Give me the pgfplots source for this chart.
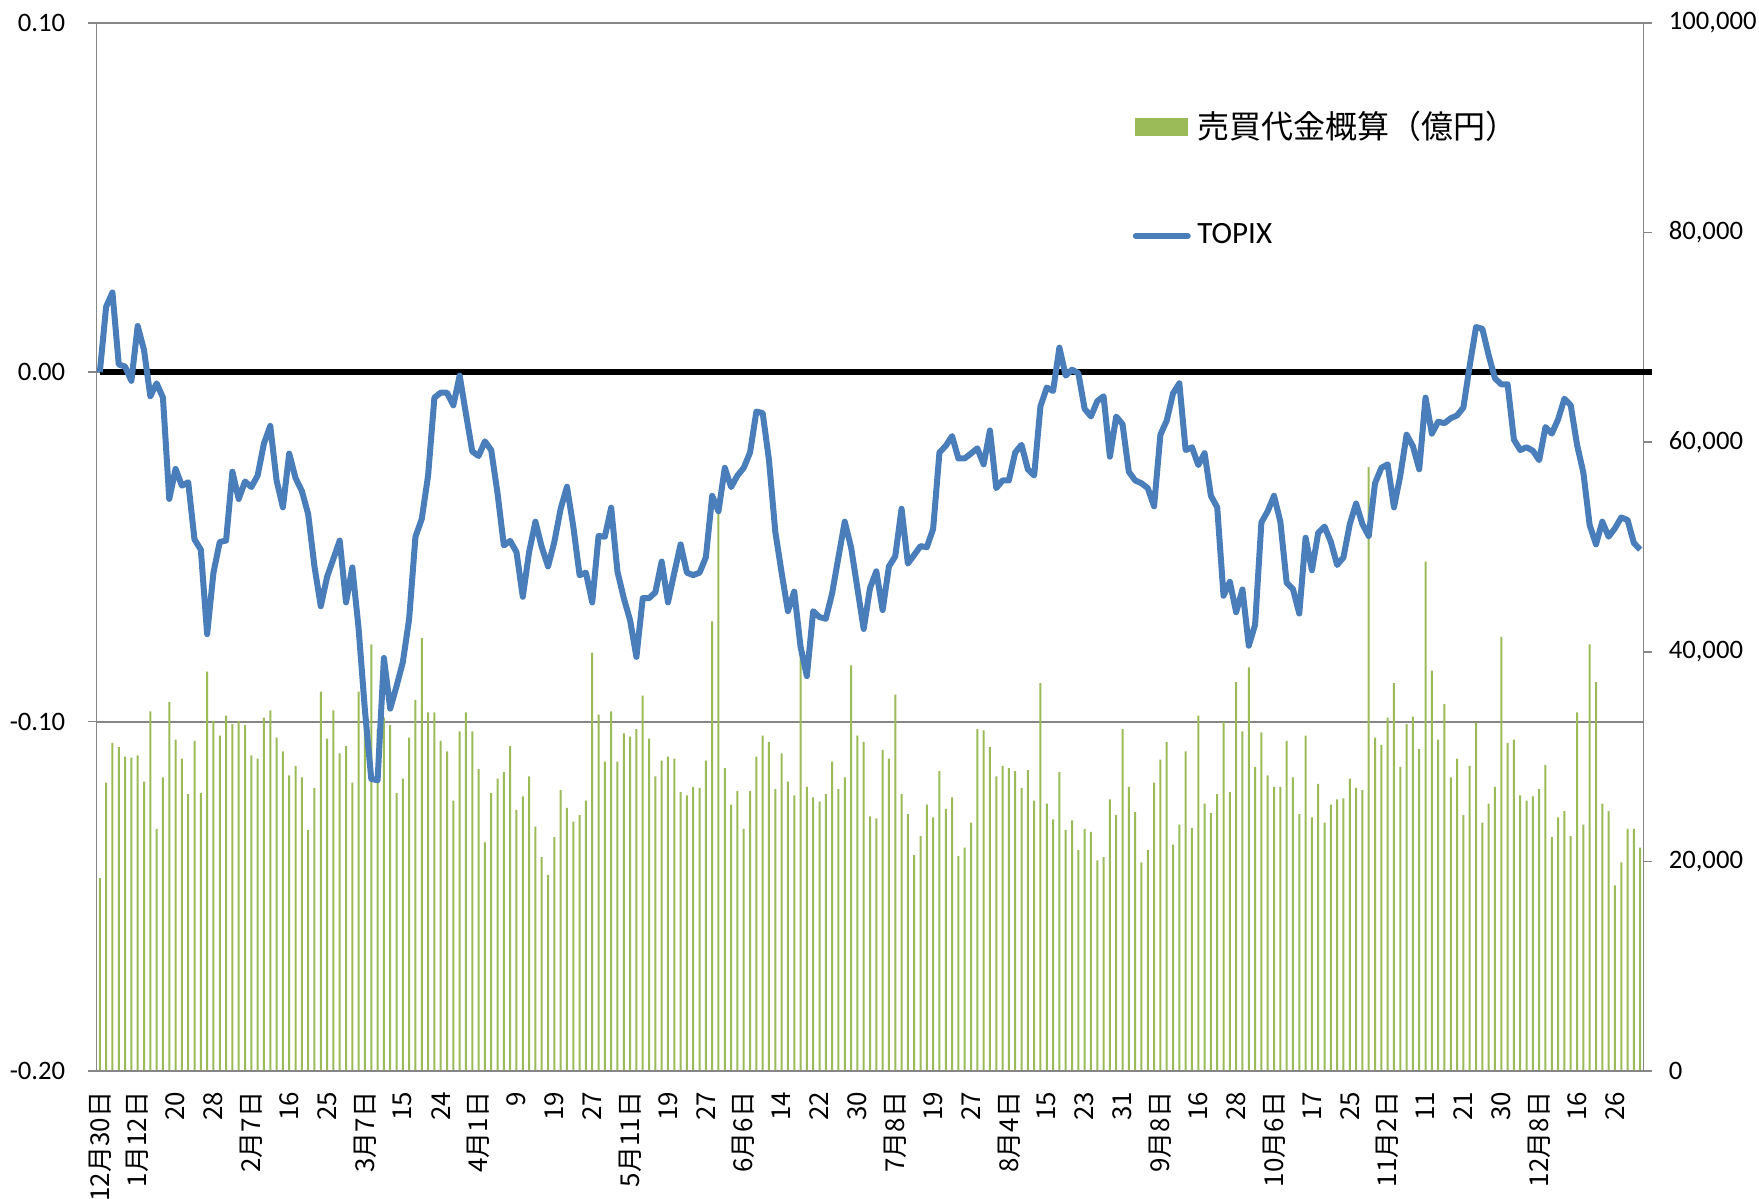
\documentclass[border=0pt]{standalone}
\usepackage{fontspec}
\setmainfont{Carlito}
\newfontfamily\jp{Noto Sans CJK JP}
\usepackage{pgfplots}
\usepackage{pgfplotstable}
\pgfplotsset{compat=1.18}
\definecolor{barg}{HTML}{9BBB59}
\definecolor{lineb}{HTML}{4A7EBB}
\definecolor{axgray}{HTML}{868686}

\pgfplotstableread{
i v
0 18400
1 27500
2 31300
3 30900
4 30000
5 29900
6 30100
7 27600
8 34300
9 23100
10 28000
11 35200
12 31600
13 29800
14 26400
15 31500
16 26500
17 38100
18 33400
19 32000
20 33900
21 33100
22 33400
23 33000
24 30100
25 29800
26 33700
27 34400
28 31800
29 30500
30 28200
31 29100
32 28000
33 23000
34 27000
35 36200
36 31700
37 34400
38 30300
39 31000
40 27500
41 36200
42 37100
43 40700
44 32600
45 33700
46 33000
47 26500
48 27900
49 31800
50 35400
51 41300
52 34200
53 34200
54 31500
55 30500
56 25800
57 32400
58 34200
59 32400
60 28800
61 21800
62 26500
63 27900
64 28500
65 31000
66 24900
67 26200
68 28100
69 23300
70 20400
71 18700
72 22300
73 26800
74 25100
75 23800
76 24400
77 25800
78 39900
79 34000
80 29500
81 34300
82 29500
83 32200
84 31900
85 32600
86 35800
87 31700
88 28100
89 29600
90 30000
91 29800
92 26600
93 26300
94 27100
95 27000
96 29600
97 42900
98 54500
99 28900
100 25400
101 26700
102 23100
103 26700
104 30000
105 32000
106 31400
107 26900
108 30300
109 27600
110 26300
111 42000
112 27100
113 26100
114 25700
115 26400
116 29500
117 26900
118 28000
119 38700
120 32000
121 31400
122 24300
123 24100
124 30600
125 29800
126 35900
127 26400
128 24500
129 20600
130 22400
131 25400
132 24200
133 28600
134 25000
135 26100
136 20500
137 21300
138 23700
139 32600
140 32500
141 30900
142 28100
143 29100
144 28900
145 28600
146 27000
147 28700
148 25800
149 37000
150 25500
151 24000
152 28500
153 23000
154 23900
155 21100
156 23100
157 22800
158 20100
159 20400
160 25900
161 24400
162 32600
163 27100
164 24700
165 19900
166 21100
167 27500
168 29700
169 31400
170 21600
171 23500
172 30500
173 23200
174 33900
175 25500
176 24600
177 26400
178 33300
179 26600
180 37100
181 32400
182 38500
183 29000
184 32300
185 28200
186 27100
187 27100
188 31500
189 28000
190 24500
191 32000
192 24200
193 27400
194 23700
195 25400
196 25900
197 26000
198 27900
199 27000
200 26800
201 57600
202 31800
203 31100
204 33700
205 37000
206 29000
207 33100
208 33800
209 30700
210 48600
211 38200
212 31600
213 35000
214 28000
215 29800
216 24400
217 29100
218 33200
219 23700
220 25500
221 27100
222 41400
223 31300
224 31600
225 26300
226 25800
227 26200
228 26900
229 29200
230 22300
231 24200
232 24800
233 22400
234 34200
235 23500
236 40700
237 37100
238 25500
239 24800
240 17700
241 19900
242 23100
243 23100
244 21300
}\vol

\pgfplotstableread{
i t
0 0
1 0.0187
2 0.0228
3 0.0022
4 0.0016
5 -0.0025
6 0.0132
7 0.0063
8 -0.0069
9 -0.0032
10 -0.0073
11 -0.0363
12 -0.0277
13 -0.0325
14 -0.0315
15 -0.0479
16 -0.0508
17 -0.0750
18 -0.0574
19 -0.0486
20 -0.0482
21 -0.0285
22 -0.0363
23 -0.0313
24 -0.0329
25 -0.0296
26 -0.0204
27 -0.0154
28 -0.0310
29 -0.0387
30 -0.0233
31 -0.0303
32 -0.0340
33 -0.0406
34 -0.0556
35 -0.0670
36 -0.0586
37 -0.0534
38 -0.0482
39 -0.0659
40 -0.0559
41 -0.0735
42 -0.0969
43 -0.1164
44 -0.1168
45 -0.0818
46 -0.0963
47 -0.0899
48 -0.0830
49 -0.0706
50 -0.0471
51 -0.0420
52 -0.0296
53 -0.0073
54 -0.0059
55 -0.0059
56 -0.0095
57 -0.0010
58 -0.0120
59 -0.0227
60 -0.0240
61 -0.0198
62 -0.0223
63 -0.0347
64 -0.0496
65 -0.0483
66 -0.0515
67 -0.0643
68 -0.0515
69 -0.0428
70 -0.0500
71 -0.0556
72 -0.0486
73 -0.0391
74 -0.0328
75 -0.0442
76 -0.0581
77 -0.0574
78 -0.0659
79 -0.0469
80 -0.0471
81 -0.0388
82 -0.0571
83 -0.0647
84 -0.0710
85 -0.0815
86 -0.0647
87 -0.0647
88 -0.0630
89 -0.0542
90 -0.0659
91 -0.0574
92 -0.0493
93 -0.0574
94 -0.0581
95 -0.0574
96 -0.0530
97 -0.0354
98 -0.0398
99 -0.0274
100 -0.0329
101 -0.0296
102 -0.0274
103 -0.0230
104 -0.0113
105 -0.0117
106 -0.0252
107 -0.0457
108 -0.0574
109 -0.0684
110 -0.0628
111 -0.0786
112 -0.0870
113 -0.0684
114 -0.0701
115 -0.0706
116 -0.0633
117 -0.0530
118 -0.0428
119 -0.0501
120 -0.0618
121 -0.0735
122 -0.0618
123 -0.0570
124 -0.0681
125 -0.0556
126 -0.0527
127 -0.0391
128 -0.0548
129 -0.0523
130 -0.0498
131 -0.0501
132 -0.0449
133 -0.0230
134 -0.0211
135 -0.0183
136 -0.0247
137 -0.0247
138 -0.0233
139 -0.0218
140 -0.0264
141 -0.0167
142 -0.0332
143 -0.0310
144 -0.0310
145 -0.0230
146 -0.0208
147 -0.0278
148 -0.0296
149 -0.0098
150 -0.0044
151 -0.0054
152 0.0070
153 -0.0010
154 0.0007
155 -0.0003
156 -0.0105
157 -0.0127
158 -0.0083
159 -0.0069
160 -0.0242
161 -0.0127
162 -0.0149
163 -0.0285
164 -0.0310
165 -0.0318
166 -0.0332
167 -0.0384
168 -0.0179
169 -0.0139
170 -0.0061
171 -0.0032
172 -0.0223
173 -0.0215
174 -0.0266
175 -0.0232
176 -0.0354
177 -0.0387
178 -0.0640
179 -0.0600
180 -0.0687
181 -0.0622
182 -0.0783
183 -0.0723
184 -0.0430
185 -0.0398
186 -0.0354
187 -0.0428
188 -0.0603
189 -0.0621
190 -0.0691
191 -0.0474
192 -0.0567
193 -0.0460
194 -0.0442
195 -0.0486
196 -0.0552
197 -0.0530
198 -0.0435
199 -0.0376
200 -0.0435
201 -0.0469
202 -0.0318
203 -0.0274
204 -0.0264
205 -0.0387
206 -0.0296
207 -0.0179
208 -0.0212
209 -0.0278
210 -0.0073
211 -0.0176
212 -0.0142
213 -0.0146
214 -0.0132
215 -0.0124
216 -0.0101
217 0.0019
218 0.0129
219 0.0124
220 0.0048
221 -0.0018
222 -0.0035
223 -0.0035
224 -0.0193
225 -0.0223
226 -0.0215
227 -0.0225
228 -0.0252
229 -0.0157
230 -0.0176
231 -0.0135
232 -0.0076
233 -0.0095
234 -0.0208
235 -0.0288
236 -0.0438
237 -0.0493
238 -0.0428
239 -0.0471
240 -0.0447
241 -0.0416
242 -0.0423
243 -0.0489
244 -0.0508
}\topix

\begin{document}
\begin{tikzpicture}
\useasboundingbox (-29pt,-38.1pt) rectangle (498.7pt,321.3pt);
% volume bars, right axis
\begin{axis}[
  scale only axis, width=464pt, height=314.5pt,
  xmin=-0.5, xmax=244.5, ymin=0, ymax=100000,
  axis y line*=right, axis x line=none,
  axis line style={axgray, line width=0.5pt},
  ytick={0,20000,40000,60000,80000,100000},
  scaled y ticks=false,
  /pgf/number format/assume math mode=true,
  /pgf/number format/fixed,
  /pgf/number format/precision=0,
  /pgf/number format/1000 sep={,},
  yticklabel style={font=\fontsize{8}{9}\selectfont, anchor=west, xshift=1.4pt},
  tick align=outside, major tick length=2.7pt,
  ytick style={axgray, line width=0.5pt},
  extra y ticks={33333.33,66666.67,100000},
  extra y tick labels={},
  extra y tick style={grid=major, major grid style={axgray, line width=0.6pt}, major tick length=0pt},
]
\addplot[ybar, bar width=0.6pt, bar shift=0pt, fill=barg, draw=none] table[x=i, y=v] {\vol};
\end{axis}
% TOPIX line, left axis
\begin{axis}[
  scale only axis, width=464pt, height=314.5pt,
  xmin=-0.5, xmax=244.5, ymin=-0.2, ymax=0.1,
  axis y line*=left, axis x line*=bottom,
  axis line style={axgray, line width=0.5pt},
  clip=false,
  ytick={-0.2,-0.1,0,0.1},
  /pgf/number format/assume math mode=true,
  /pgf/number format/fixed, /pgf/number format/fixed zerofill, /pgf/number format/precision=2,
  yticklabel style={font=\fontsize{8}{9}\selectfont, anchor=east, xshift=-3.2pt},
  tick align=outside, major tick length=2.7pt,
  ytick style={axgray, line width=0.5pt},
  xtick={0,6,...,240},
  xticklabels={12月30日,1月12日,20,28,2月7日,16,25,3月7日,15,24,4月1日,9,19,27,5月11日,19,27,6月6日,14,22,30,7月8日,19,27,8月4日,15,23,31,9月8日,16,28,10月6日,17,25,11月2日,11,21,30,12月8日,16,26},
  xticklabel style={font=\jp\fontsize{7.8}{9}\selectfont, rotate=90, anchor=east},
  xtick style={draw=none},
  legend cell align=left,
  legend style={at={(0.663,0.929)}, anchor=north west, draw=none, fill=none,
    font=\fontsize{9.3}{11}\selectfont, row sep=20pt,
    /tikz/every even column/.append style={column sep=0pt}},
]
\addlegendimage{legend image code/.code={\fill[barg] (0pt,-2.55pt) rectangle (15.6pt,2.55pt);}}
\addlegendentry{{\jp\fontsize{9.6}{11}\selectfont 売買代金概算（億円）}}
\addplot[black, line width=1.7pt, forget plot] coordinates {(0,0) (245.8,0)};
\addplot[lineb, line width=1.8pt, line join=round, no markers,
  legend image code/.code={\draw[lineb, line width=1.8pt, line cap=round] (0pt,0pt) -- (15.6pt,0pt);}]
  table[x=i, y=t] {\topix};
\addlegendentry{TOPIX}
\end{axis}
\end{tikzpicture}
\end{document}
